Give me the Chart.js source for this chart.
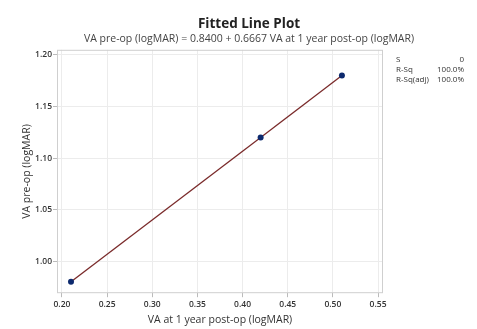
<!DOCTYPE html>
<html>
<head>
<meta charset="utf-8">
<script src="https://cdn.jsdelivr.net/npm/chart.js@4.4.0/dist/chart.umd.min.js"></script>
<style>
  html, body { margin: 0; padding: 0; background: #fff; }
  #wrap { width: 477px; height: 329px; position: relative; }
</style>
</head>
<body>
<div id="wrap"><canvas id="MyChart"></canvas></div>
<script>
// datos
const vaPost = [0.21, 0.42, 0.51]
const vaPre = [0.98, 1.12, 1.18]
const xTicks = [0.20, 0.25, 0.30, 0.35, 0.40, 0.45, 0.50, 0.55]
const yTicks = [1.00, 1.05, 1.10, 1.15, 1.20]
const statNames = ['S', 'R-Sq', 'R-Sq(adj)']
const statValues = ['0', '100.0%', '100.0%']

Chart.defaults.font.family = "'Open Sans', 'Noto Sans', sans-serif"
Chart.defaults.color = '#333'

const puntos = vaPost.map((v, i) => ({ x: v, y: vaPre[i] }))

// caja del area de grafico y la tabla de resumen a la derecha
const extras = {
  id: 'extras',
  beforeDatasetsDraw(chart) {
    const { ctx, chartArea: a } = chart
    ctx.save()
    ctx.strokeStyle = '#cfcfcf'
    ctx.lineWidth = 1
    ctx.strokeRect(a.left + 0.5, a.top + 0.5, a.right - a.left - 1, a.bottom - a.top - 1)
    ctx.restore()
  },
  afterDraw(chart) {
    const { ctx } = chart
    ctx.save()
    ctx.font = "8px 'Open Sans', sans-serif"
    ctx.fillStyle = '#333'
    ctx.textBaseline = 'middle'
    statNames.forEach((n, i) => {
      const y = 60 + i * 10
      ctx.textAlign = 'left'
      ctx.fillText(n, 396, y)
      ctx.textAlign = 'right'
      ctx.fillText(statValues[i], 464, y)
    })
    ctx.restore()
  }
}

const myChart = new Chart(document.getElementById('MyChart'), {
  type: 'scatter',
  data: {
    datasets: [{
      label: 'Ajuste',
      data: puntos,
      showLine: true,
      borderColor: '#7a2a2a',
      borderWidth: 1.3,
      pointRadius: 3,
      pointBackgroundColor: '#0d2a6e',
      pointBorderColor: '#0d2a6e',
      pointBorderWidth: 0
    }]
  },
  options: {
    responsive: true,
    maintainAspectRatio: false,
    animation: false,
    layout: { padding: { left: 21, right: 0, top: 4, bottom: 3 } },
    plugins: {
      legend: { display: false },
      tooltip: { enabled: false },
      title: {
        display: true,
        text: 'Fitted Line Plot',
        color: '#222',
        font: { size: 13.5, weight: 'bold' },
        padding: { top: 12, bottom: 0 }
      },
      subtitle: {
        display: true,
        text: 'VA pre-op (logMAR) = 0.8400 + 0.6667 VA at 1 year post-op (logMAR)',
        color: '#444',
        font: { size: 10.5 },
        padding: { top: 1, bottom: 4 }
      }
    },
    scales: {
      x: {
        type: 'linear',
        min: 0.1945,
        max: 0.5555,
        afterBuildTicks: s => { s.ticks = xTicks.map(v => ({ value: v })) },
        ticks: {
          callback: v => v.toFixed(2),
          font: { size: 8.5, weight: '600' },
          color: '#333',
          padding: 2
        },
        grid: { color: '#ececec', tickColor: '#bbb', tickLength: 4 },
        border: { display: false },
        title: {
          display: true,
          text: 'VA at 1 year post-op (logMAR)',
          font: { size: 10.5 },
          color: '#333',
          padding: { top: 2, bottom: 0 }
        }
      },
      y: {
        type: 'linear',
        min: 0.969,
        max: 1.205,
        afterBuildTicks: s => { s.ticks = yTicks.map(v => ({ value: v })) },
        afterFit: s => { s.width = 36 },
        ticks: {
          callback: v => v.toFixed(2),
          font: { size: 8.5, weight: '600' },
          color: '#333',
          padding: 1
        },
        grid: { color: '#ececec', tickColor: '#bbb', tickLength: 4 },
        border: { display: false },
        title: {
          display: true,
          text: 'VA pre-op (logMAR)',
          font: { size: 10.5 },
          color: '#333',
          padding: { top: 0, bottom: 0 }
        }
      },
      // eje vacio para dejar sitio a la tabla de la derecha
      derecha: {
        type: 'linear',
        position: 'right',
        display: true,
        ticks: { display: false },
        grid: { display: false },
        border: { display: false },
        afterFit: s => { s.width = 94 }
      }
    }
  },
  plugins: [extras]
})
</script>
</body>
</html>
